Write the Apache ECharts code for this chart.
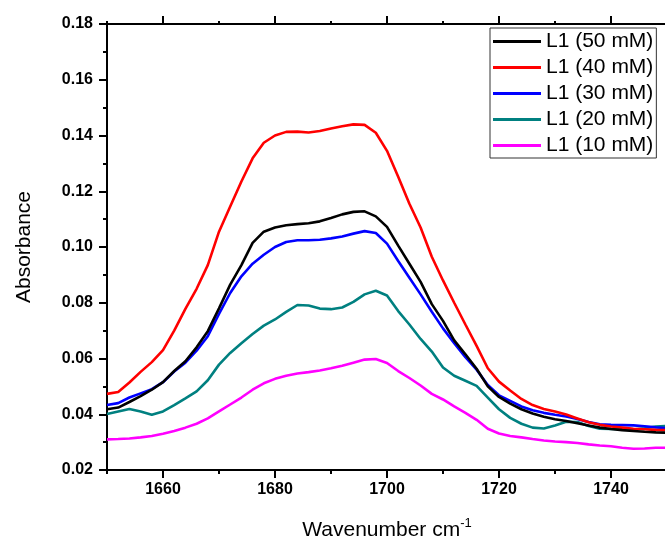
<!DOCTYPE html>
<html>
<head>
<meta charset="utf-8">
<script src="https://cdn.jsdelivr.net/npm/echarts@6/dist/echarts.min.js"></script>
<style>html,body{margin:0;padding:0;background:#fff;}#c{width:665px;height:541px;}</style>
</head>
<body>
<div id="c"></div>
<script>
const wavenumbers = [1650,1652,1654,1656,1658,1660,1662,1664,1666,1668,1670,1672,1674,1676,1678,1680,1682,1684,1686,1688,1690,1692,1694,1696,1698,1700,1702,1704,1706,1708,1710,1712,1714,1716,1718,1720,1722,1724,1726,1728,1730,1732,1734,1736,1738,1740,1742,1744,1746,1748,1750];
const seriesNames = ['L1 (50 mM)','L1 (40 mM)','L1 (30 mM)','L1 (20 mM)','L1 (10 mM)'];
const l1_50 = [0.0418,0.0424,0.0444,0.0465,0.0488,0.0515,0.0555,0.0590,0.0640,0.0698,0.0780,0.0865,0.0935,0.1015,0.1055,0.1070,0.1078,0.1082,0.1085,0.1092,0.1104,0.1117,0.1126,0.1128,0.1110,0.1072,0.1005,0.0940,0.0875,0.0795,0.0735,0.0665,0.0615,0.0563,0.0500,0.0462,0.0438,0.0418,0.0403,0.0391,0.0382,0.0376,0.0368,0.0360,0.0352,0.0347,0.0343,0.0340,0.0337,0.0335,0.0334];
const l1_40 = [0.0473,0.0480,0.0514,0.0552,0.0587,0.0630,0.0700,0.0778,0.0850,0.0935,0.1055,0.1145,0.1235,0.1318,0.1374,0.1400,0.1413,0.1414,0.1411,0.1416,0.1425,0.1433,0.1440,0.1438,0.1410,0.1345,0.1252,0.1155,0.1070,0.0965,0.0880,0.0800,0.0722,0.0645,0.0565,0.0517,0.0485,0.0455,0.0433,0.0419,0.0410,0.0399,0.0385,0.0371,0.0362,0.0356,0.0352,0.0348,0.0346,0.0344,0.0343];
const l1_30 = [0.0433,0.0440,0.0460,0.0475,0.0490,0.0515,0.0553,0.0585,0.0628,0.0680,0.0760,0.0835,0.0895,0.0940,0.0972,0.1000,0.1018,0.1024,0.1024,0.1026,0.1031,0.1038,0.1048,0.1057,0.1050,0.1012,0.0950,0.0890,0.0830,0.0768,0.0708,0.0655,0.0605,0.0560,0.0505,0.0468,0.0448,0.0428,0.0414,0.0405,0.0398,0.0392,0.0383,0.0372,0.0364,0.0362,0.0361,0.0360,0.0357,0.0353,0.0350];
const l1_20 = [0.0401,0.0410,0.0419,0.0410,0.0398,0.0410,0.0433,0.0457,0.0482,0.0522,0.0578,0.0620,0.0655,0.0688,0.0718,0.0740,0.0767,0.0792,0.0790,0.0779,0.0777,0.0783,0.0803,0.0830,0.0843,0.0826,0.0770,0.0722,0.0670,0.0625,0.0568,0.0538,0.0520,0.0502,0.0460,0.0418,0.0387,0.0366,0.0352,0.0349,0.0360,0.0373,0.0372,0.0358,0.0348,0.0347,0.0346,0.0345,0.0350,0.0356,0.0358];
const l1_10 = [0.0310,0.0311,0.0313,0.0317,0.0322,0.0330,0.0340,0.0352,0.0366,0.0385,0.0410,0.0435,0.0460,0.0488,0.0511,0.0527,0.0538,0.0546,0.0551,0.0557,0.0565,0.0574,0.0585,0.0596,0.0598,0.0584,0.0555,0.0530,0.0503,0.0473,0.0453,0.0428,0.0405,0.0380,0.0348,0.0331,0.0322,0.0317,0.0311,0.0306,0.0302,0.0300,0.0297,0.0292,0.0288,0.0285,0.0280,0.0276,0.0277,0.0280,0.0280];
const xMajorTicks = [1660,1680,1700,1720,1740];
const xMinorTicks = [1650,1670,1690,1710,1730,1750];
const colors = ['#000000','#ff0000','#0000ff','#008080','#ff00ff'];
const allValues = [l1_50,l1_40,l1_30,l1_20,l1_10];

const chart = echarts.init(document.getElementById('c'), null, {renderer:'canvas'});
const FONT = 'Liberation Sans, Arial, sans-serif';
function xAx(grid, pos, ticks, len, withLine, withLabel) {
  return {
    type:'value', gridIndex:grid, position:pos, min:1650, max:1750,
    axisLine:{show:withLine, onZero:false, lineStyle:{color:'#000', width:2}},
    axisTick:{show:true, inside:false, length:len, customValues:ticks, lineStyle:{color:'#000', width:2}},
    axisLabel:{show:true, customValues: withLabel ? xMajorTicks : ticks, margin:12,
      color: withLabel ? '#000' : 'rgba(0,0,0,0)', fontFamily:FONT, fontWeight:'bold', fontSize:16,
      formatter: v=>String(v)},
    splitLine:{show:false}
  };
}
const xAxes = [
  xAx(0, 'bottom', xMinorTicks, 4, true, true),
  {
    type:'value', gridIndex:0, position:'top', min:1650, max:1750, interval:10,
    axisLine:{show:true, onZero:false, lineStyle:{color:'#000', width:2}},
    axisTick:{show:false}, axisLabel:{show:false}, splitLine:{show:false}
  },
  xAx(1, 'bottom', xMajorTicks, 8, false, false)
];
xAxes[0].name = '{n|Wavenumber cm}{s|-1}';
xAxes[0].nameLocation = 'middle';
xAxes[0].nameGap = 47;
xAxes[0].nameTextStyle = {rich:{n:{fontFamily:FONT, fontSize:21, color:'#000', verticalAlign:'bottom', lineHeight:24}, s:{fontFamily:FONT, fontSize:13, color:'#000', verticalAlign:'top', lineHeight:24, padding:[0,0,12,0]}}};

const gridBox = {left:107, right:-2, top:24, bottom:71, outerBoundsMode:'none', containLabel:false};

const yMain = {
  type:'value', gridIndex:0, min:0.02, max:0.18, interval:0.02,
  name:'Absorbance', nameLocation:'middle', nameGap:72, nameRotate:90,
  nameTextStyle:{fontFamily:FONT, fontSize:21, color:'#000'},
  axisLine:{show:true, onZero:false, lineStyle:{color:'#000', width:2}},
  axisTick:{show:true, length:8, lineStyle:{color:'#000', width:2}},
  minorTick:{show:true, splitNumber:2, length:4, lineStyle:{color:'#000', width:2}},
  axisLabel:{margin:14, color:'#000', fontFamily:FONT, fontWeight:'bold', fontSize:16, formatter:v=>v.toFixed(2)},
  splitLine:{show:false}
};
const option = {
  animation:false,
  backgroundColor:'#fff',
  color:colors,
  grid:[Object.assign({}, gridBox), Object.assign({}, gridBox)],
  legend:{
    data:seriesNames, orient:'vertical', left:490, top:28, right:'auto',
    icon:'rect', itemWidth:48, itemHeight:3, itemGap:5,
    padding:[3,3,2,3], borderColor:'#333', borderWidth:1, backgroundColor:'#fff',
    textStyle:{fontFamily:FONT, fontSize:21, color:'#000', lineHeight:21}
  },
  xAxis:xAxes,
  yAxis:[yMain, {type:'value', gridIndex:1, min:0.02, max:0.18, show:false}],
  series: seriesNames.map((nm,i)=>({
    name:nm, type:'line', xAxisIndex:0, yAxisIndex:0,
    data: wavenumbers.map((w,j)=>[w, allValues[i][j]]),
    showSymbol:false, symbol:'none', smooth:false,
    lineStyle:{color:colors[i], width:2.6},
    itemStyle:{color:colors[i]},
    z: 10 - i
  }))
};
chart.setOption(option);

// top-axis ticks placed through the axis scale
const yTop = chart.convertToPixel({yAxisIndex:0}, 0.18);
const topTicks = [];
xMajorTicks.forEach(v => topTicks.push({v:v, len:8}));
xMinorTicks.forEach(v => topTicks.push({v:v, len:3}));
chart.setOption({
  graphic: topTicks.map(t => {
    const px = chart.convertToPixel({xAxisIndex:0}, t.v);
    return {type:'line', silent:true, z:20,
      shape:{x1:px, y1:yTop, x2:px, y2:yTop - t.len},
      style:{stroke:'#000', lineWidth:2}};
  })
});
</script>
</body>
</html>
